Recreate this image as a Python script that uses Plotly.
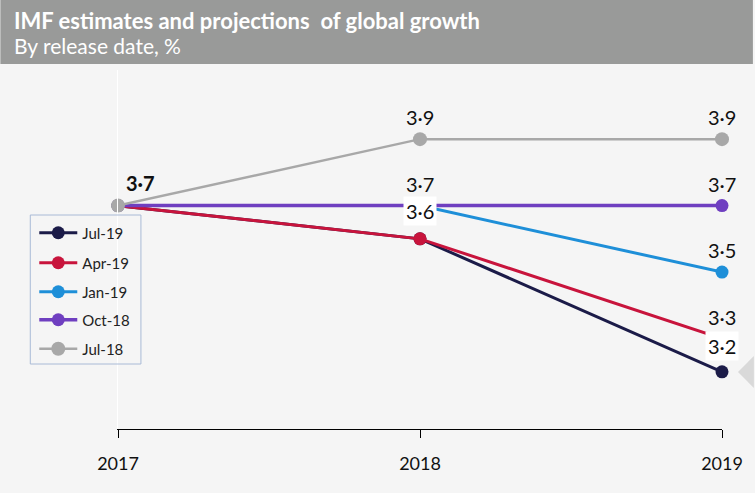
import plotly.graph_objects as go

# ---- data ----
years = [2017, 2018, 2019]
series_names = ["Jul-19", "Apr-19", "Jan-19", "Oct-18", "Jul-18"]
jul19 = [3.7, 3.6, 3.2]
apr19 = [3.7, 3.6, 3.3]
jan19 = [3.7, 3.7, 3.5]
oct18 = [3.7, 3.7, 3.7]
jul18 = [3.7, 3.9, 3.9]
tick_labels = ["2017", "2018", "2019"]

# value labels shown on chart
label_years = [2017, 2018, 2018, 2018, 2019, 2019, 2019, 2019, 2019]
label_values = [3.7, 3.9, 3.7, 3.6, 3.9, 3.7, 3.5, 3.3, 3.2]

# ---- styles ----
colors = ["#1b1b48", "#c8143c", "#1e8fd8", "#6f3fc0", "#a8a8a8"]
widths = [3, 3, 3, 3.5, 2.5]
msizes = [13, 13, 13, 13, 14]
values = [jul19, apr19, jan19, oct18, jul18]

W, H = 755, 493
L, R, T, B = 118, 31, 70, 64
pw, ph = W - L - R, H - T - B


def px_x(p):
    return (p - L) / pw


def px_y(p):
    return (H - B - p) / ph


FONT = "Lato, 'Open Sans', sans-serif"

fig = go.Figure()
legend_y_px = [233, 263, 292, 320, 349]
for i, (name, vals) in enumerate(zip(series_names, values)):
    lg = "legend" if i == 0 else f"legend{i+1}"
    fig.add_trace(go.Scatter(
        x=years, y=vals, name=name, mode="lines+markers",
        line=dict(color=colors[i], width=widths[i]),
        marker=dict(color=colors[i], size=msizes[i]),
        cliponaxis=False, legend=lg,
    ))

legends = {}
for i, cy in enumerate(legend_y_px):
    key = "legend" if i == 0 else f"legend{i+1}"
    legends[key] = dict(
        x=px_x(34), xanchor="left", y=px_y(cy), yanchor="middle",
        bgcolor="rgba(0,0,0,0)", borderwidth=0, itemwidth=38,
        font=dict(family=FONT, size=15, color="#222222"),
    )

annotations = []
for yr, v in zip(label_years, label_values):
    txt = f"{v:.1f}".replace(".", "·")
    boxed = (yr == 2018 and v == 3.6) or (yr == 2019 and v == 3.2)
    a = dict(x=yr, y=v, xref="x", yref="y", text=txt, showarrow=False,
             font=dict(family=FONT, size=20, color="#111111"),
             xanchor="center", yanchor="middle", yshift=22)
    if yr == 2017:
        a["text"] = f"<b>{txt}</b>"
        a["xshift"] = 22
        a["yshift"] = 23
    if boxed:
        a["bgcolor"] = "white"
        a["borderpad"] = 2
        a["yshift"] = 28 if yr == 2018 else 26
    annotations.append(a)

annotations.append(dict(
    xref="paper", yref="paper", x=px_x(12), y=px_y(20), xanchor="left", yanchor="middle",
    text="<b>IMF estimates and projections  of global growth</b>", showarrow=False,
    font=dict(family=FONT, size=22, color="white")))
annotations.append(dict(
    xref="paper", yref="paper", x=px_x(12), y=px_y(46), xanchor="left", yanchor="middle",
    text="By release date, %", showarrow=False,
    font=dict(family=FONT, size=21, color="white")))

shapes = [
    dict(type="rect", xref="paper", yref="paper", x0=px_x(0), x1=px_x(W), y0=px_y(64), y1=px_y(0),
         fillcolor="#999a99", line=dict(width=0), layer="below"),
    dict(type="rect", xref="paper", yref="paper", x0=px_x(30), x1=px_x(141), y0=px_y(364), y1=px_y(215),
         fillcolor="rgba(0,0,0,0)", line=dict(color="#a9bad6", width=1)),
    dict(type="path", xref="paper", yref="paper",
         path=f"M {px_x(740)},{px_y(372)} L {px_x(756)},{px_y(356)} L {px_x(756)},{px_y(388)} Z",
         fillcolor="#d9d9d9", line=dict(width=0)),
]

fig.update_layout(
    width=W, height=H,
    margin=dict(l=L, r=R, t=T, b=B),
    paper_bgcolor="#f5f5f5", plot_bgcolor="#f5f5f5",
    font=dict(family=FONT),
    showlegend=True,
    annotations=annotations,
    shapes=shapes,
    **legends,
)
fig.update_xaxes(
    range=[2017, 2019], tickvals=years, ticktext=tick_labels,
    showline=True, linecolor="black", linewidth=1,
    ticks="outside", ticklen=8, tickcolor="black", tickwidth=1,
    showgrid=False, zeroline=False, ticklabelstandoff=10,
    tickfont=dict(family=FONT, size=18, color="#111111"),
)
fig.update_yaxes(
    range=[3.028, 4.108], showticklabels=False, showgrid=False, zeroline=False,
    showline=True, linecolor="white", linewidth=1,
)

fig.write_html("out.html", config={"displayModeBar": False},
               post_script="document.body.style.margin='0';document.body.style.background='#f5f5f5';")
